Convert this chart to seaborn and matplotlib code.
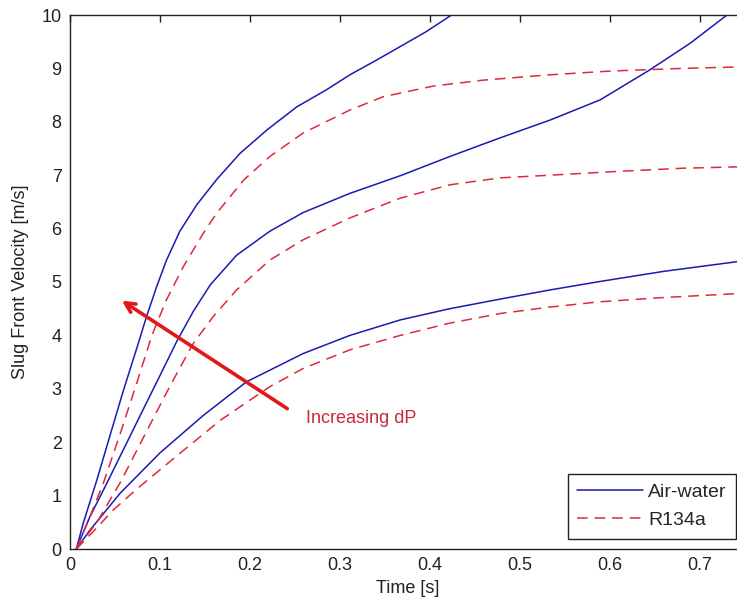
import matplotlib
matplotlib.use("Agg")
import matplotlib.pyplot as plt
import seaborn as sns
import pandas as pd

# ---- data ----
air_hi_t = [0.007, 0.015, 0.030, 0.044, 0.059, 0.074, 0.085, 0.096, 0.107, 0.122, 0.141, 0.163,
            0.189, 0.219, 0.252, 0.285, 0.311, 0.340, 0.367, 0.395, 0.424]
air_hi_v = [0.0, 0.50, 1.30, 2.10, 2.95, 3.75, 4.35, 4.90, 5.40, 5.95, 6.45, 6.92,
            7.41, 7.85, 8.28, 8.60, 8.88, 9.15, 9.41, 9.68, 10.0]

r134_hi_t = [0.007, 0.022, 0.037, 0.056, 0.074, 0.091, 0.107, 0.126, 0.148, 0.163, 0.193, 0.222,
             0.259, 0.311, 0.348, 0.404, 0.459, 0.533, 0.600, 0.680, 0.750]
r134_hi_v = [0.0, 0.60, 1.23, 2.17, 3.10, 4.00, 4.66, 5.29, 5.91, 6.29, 6.91, 7.35,
             7.79, 8.22, 8.47, 8.67, 8.78, 8.88, 8.95, 9.00, 9.03]

air_mid_t = [0.007, 0.022, 0.040, 0.059, 0.078, 0.100, 0.119, 0.137, 0.156, 0.185, 0.222, 0.259,
             0.311, 0.367, 0.422, 0.478, 0.533, 0.589, 0.644, 0.689, 0.730]
air_mid_v = [0.0, 0.60, 1.20, 1.85, 2.50, 3.25, 3.90, 4.45, 4.95, 5.50, 5.95, 6.30,
             6.66, 6.99, 7.35, 7.70, 8.03, 8.41, 8.97, 9.47, 10.0]

r134_mid_t = [0.007, 0.030, 0.056, 0.085, 0.111, 0.137, 0.159, 0.185, 0.222, 0.259, 0.311,
              0.367, 0.422, 0.478, 0.533, 0.607, 0.680, 0.750]
r134_mid_v = [0.0, 0.50, 1.25, 2.20, 3.05, 3.85, 4.35, 4.85, 5.41, 5.79, 6.20,
              6.57, 6.82, 6.95, 7.00, 7.07, 7.13, 7.16]

air_lo_t = [0.007, 0.022, 0.056, 0.100, 0.148, 0.196, 0.259, 0.311, 0.367, 0.422, 0.478, 0.533,
            0.589, 0.660, 0.750]
air_lo_v = [0.0, 0.35, 1.05, 1.80, 2.50, 3.13, 3.66, 4.00, 4.29, 4.50, 4.68, 4.85,
            5.01, 5.20, 5.40]

r134_lo_t = [0.007, 0.030, 0.048, 0.074, 0.122, 0.167, 0.222, 0.259, 0.311, 0.367, 0.422, 0.478,
             0.533, 0.589, 0.660, 0.750]
r134_lo_v = [0.0, 0.40, 0.73, 1.12, 1.79, 2.41, 3.04, 3.38, 3.73, 4.00, 4.23, 4.41,
             4.53, 4.63, 4.71, 4.79]

series_labels = ["Air-water", "R134a"]
annotation_text = "Increasing dP"
x_ticks = [0, 0.1, 0.2, 0.3, 0.4, 0.5, 0.6, 0.7]
x_tick_labels = ["0", "0.1", "0.2", "0.3", "0.4", "0.5", "0.6", "0.7"]
y_ticks = list(range(0, 11))

# ---- style ----
sns.set_style("white")
plt.rcParams["font.family"] = ["Liberation Sans", "DejaVu Sans"]

BLUE = "#1a1ab4"
RED = "#e0283a"

fig = plt.figure(figsize=(7.37, 6.07), dpi=100)
ax = fig.add_axes([70 / 737, 58 / 607, 675 / 737, 534 / 607])

air = [(air_hi_t, air_hi_v), (air_mid_t, air_mid_v), (air_lo_t, air_lo_v)]
r134 = [(r134_hi_t, r134_hi_v), (r134_mid_t, r134_mid_v), (r134_lo_t, r134_lo_v)]

for i, (t, v) in enumerate(air):
    df = pd.DataFrame({"t": t, "v": v})
    sns.lineplot(data=df, x="t", y="v", ax=ax, color=BLUE, linewidth=1.1,
                 label=series_labels[0] if i == 0 else None, legend=False)
for i, (t, v) in enumerate(r134):
    df = pd.DataFrame({"t": t, "v": v})
    sns.lineplot(data=df, x="t", y="v", ax=ax, color=RED, linewidth=1.1,
                 label=series_labels[1] if i == 0 else None, legend=False)
for line in ax.lines[:6]:
    line.set_solid_joinstyle("round")
    line.set_dash_joinstyle("round")
for line in ax.lines[3:6]:
    line.set_linestyle((0, (7, 4.5)))

ax.set_xlim(0, 0.75)
ax.set_ylim(0, 10)
ax.set_xticks(x_ticks)
ax.set_xticklabels(x_tick_labels)
ax.set_yticks(y_ticks)
ax.tick_params(direction="in", length=5, width=1, top=True, right=True,
               labelsize=13, colors="#222222", pad=6)
for s in ax.spines.values():
    s.set_color("#222222")
    s.set_linewidth(1.0)

ax.set_xlabel("Time [s]", fontsize=13, color="#222222", labelpad=4)
ax.set_ylabel("Slug Front Velocity [m/s]", fontsize=13, color="#222222", labelpad=9)

# arrow and annotation
ax.annotate("", xy=(0.055, 4.68), xytext=(0.244, 2.60),
            arrowprops=dict(arrowstyle="->,head_length=0.7,head_width=0.35",
                            color="#e01818", lw=2.6))
ax.text(0.262, 2.45, annotation_text, fontsize=13, color="#c8283c",
        ha="left", va="center")

handles = [ax.lines[0], ax.lines[3]]
leg = fig.legend(handles, series_labels, loc="lower right",
                 bbox_to_anchor=(736.5 / 737, 68 / 607),
                 frameon=True, fancybox=False, framealpha=1, edgecolor="#222222",
                 fontsize=14, handlelength=3.4, handletextpad=0.25,
                 borderpad=0.5, labelspacing=0.55, borderaxespad=0)
leg.get_frame().set_linewidth(1.0)

fig.savefig("out.png", dpi=100)
